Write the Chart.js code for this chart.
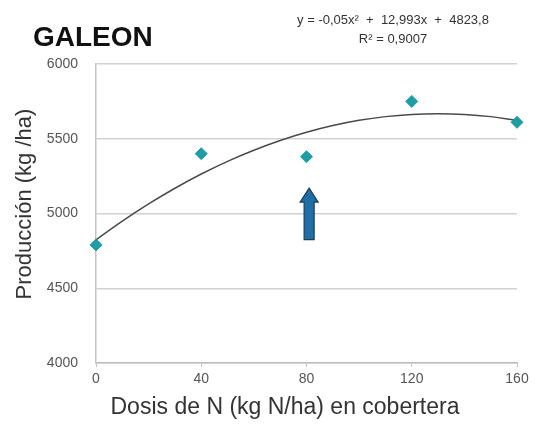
<!DOCTYPE html>
<html>
<head>
<meta charset="utf-8">
<script src="https://cdn.jsdelivr.net/npm/chart.js@4.4.0/dist/chart.umd.min.js"></script>
<style>
  html, body { margin: 0; padding: 0; background: #fff; }
  #wrap { width: 535px; height: 429px; position: relative; }
</style>
</head>
<body>
<div id="wrap"><canvas id="chart"></canvas></div>
<script>
// Measured points: N dose vs yield
const doses = [0, 40, 80, 120, 160];
const yields = [4790, 5400, 5380, 5750, 5610];

// Trend curve
const trendX = [0, 10, 20, 30, 40, 50, 60, 70, 80, 90, 100, 110, 120, 130, 140, 150, 160];
const trendY = [4824, 4949, 5064, 5169, 5264, 5349, 5423, 5488, 5543, 5588, 5623, 5648, 5663, 5668, 5663, 5648, 5623];

// Arrow marker (data coords)
const arrowX = 81;
const arrowFrom = 4825;
const arrowTo = 5170;

const xTicks = [0, 40, 80, 120, 160];
const yTicks = [4000, 4500, 5000, 5500, 6000];

const equationLines = ['y = -0,05x\u00B2  +  12,993x  +  4823,8', 'R\u00B2 = 0,9007'];

// draws the title, equation, axis titles and the arrow
const decorations = {
    id: 'decorations',
    afterDatasetsDraw(chart) {
        const ctx = chart.ctx;
        const xs = chart.scales.x, ys = chart.scales.y;
        ctx.save();

        // arrow
        const ax = xs.getPixelForValue(arrowX);
        const top = ys.getPixelForValue(arrowTo);
        const bot = ys.getPixelForValue(arrowFrom);
        const headH = 14, headW = 9, shaftW = 5;
        ctx.beginPath();
        ctx.moveTo(ax, top);
        ctx.lineTo(ax + headW, top + headH);
        ctx.lineTo(ax + shaftW, top + headH);
        ctx.lineTo(ax + shaftW, bot);
        ctx.lineTo(ax - shaftW, bot);
        ctx.lineTo(ax - shaftW, top + headH);
        ctx.lineTo(ax - headW, top + headH);
        ctx.closePath();
        ctx.fillStyle = '#1f6ea6';
        ctx.fill();
        ctx.strokeStyle = '#1d3d57';
        ctx.lineWidth = 1.2;
        ctx.stroke();

        // title
        ctx.fillStyle = '#111';
        ctx.font = 'bold 28px "Liberation Sans", Arial, sans-serif';
        ctx.textAlign = 'left';
        ctx.textBaseline = 'alphabetic';
        ctx.fillText('GALEON', 33, 46);

        // equation
        ctx.fillStyle = '#333';
        ctx.font = '13px "Liberation Sans", Arial, sans-serif';
        ctx.textAlign = 'center';
        ctx.textBaseline = 'middle';
        ctx.fillText(equationLines[0], 393, 20);
        ctx.fillText(equationLines[1], 393, 39);

        // axis titles
        ctx.fillStyle = '#333';
        ctx.font = '23px "Liberation Sans", Arial, sans-serif';
        ctx.fillText('Dosis de N (kg N/ha) en cobertera', 285, 408);

        ctx.translate(25, 204);
        ctx.rotate(-Math.PI / 2);
        ctx.font = '22px "Liberation Sans", Arial, sans-serif';
        ctx.fillText('Producci\u00F3n (kg /ha)', 0, 0);
        ctx.restore();
    }
};

const ctx = document.getElementById('chart').getContext('2d');
new Chart(ctx, {
    type: 'scatter',
    data: {
        datasets: [
            {
                type: 'line',
                label: 'Tendencia',
                data: trendX.map((x, i) => ({ x, y: trendY[i] })),
                borderColor: '#4a4a4a',
                borderWidth: 1.5,
                pointRadius: 0,
                tension: 0.4,
                fill: false,
                order: 2
            },
            {
                label: 'Producción',
                data: doses.map((x, i) => ({ x, y: yields[i] })),
                pointStyle: 'rectRot',
                pointRadius: 6,
                backgroundColor: '#1e9ea4',
                borderColor: '#1e9ea4',
                borderWidth: 1,
                clip: false,
                order: 1
            }
        ]
    },
    options: {
        responsive: true,
        maintainAspectRatio: false,
        animation: false,
        layout: { padding: { left: 0, right: 18, top: 64, bottom: 0 } },
        plugins: {
            legend: { display: false },
            tooltip: { enabled: false },
            title: { display: false }
        },
        scales: {
            x: {
                type: 'linear',
                min: 0,
                max: 160,
                afterFit: (s) => { s.height = 66; },
                afterBuildTicks: (s) => { s.ticks = xTicks.map(v => ({ value: v })); },
                grid: { drawOnChartArea: false, drawTicks: true, tickLength: 4, color: '#c4c4c4' },
                border: { color: '#bdbdbd', width: 1.5 },
                ticks: {
                    padding: 4,
                    color: '#555',
                    font: { family: '"Liberation Sans", Arial, sans-serif', size: 14 },
                    callback: (v) => String(v)
                }
            },
            y: {
                type: 'linear',
                min: 4000,
                max: 6000,
                afterFit: (s) => { s.width = 96; },
                afterBuildTicks: (s) => { s.ticks = yTicks.map(v => ({ value: v })); },
                grid: { color: '#d2d2d2', lineWidth: 1.5, drawTicks: false },
                border: { color: '#c4c4c4', width: 1.5 },
                ticks: {
                    padding: 18,
                    color: '#555',
                    font: { family: '"Liberation Sans", Arial, sans-serif', size: 14 },
                    callback: (v) => String(v)
                }
            }
        }
    },
    plugins: [decorations]
});
</script>
</body>
</html>
